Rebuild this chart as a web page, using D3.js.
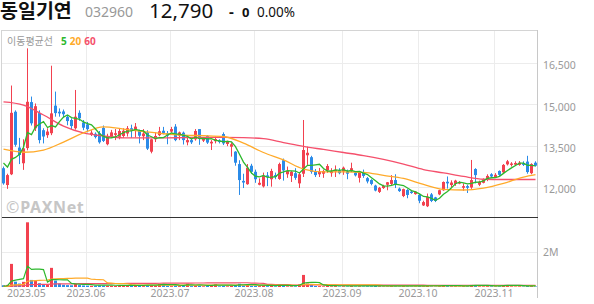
<!DOCTYPE html>
<html>
<head>
<meta charset="utf-8">
<script src="https://cdn.jsdelivr.net/npm/d3@7"></script>
<style>
  body { margin: 0; background: #fff; }
  svg text { font-family: "Noto Sans", "Noto Sans CJK KR", sans-serif; }
</style>
</head>
<body>
<div id="chart"></div>
<script>

// ---- data ----
var stockName = "동일기연";
var stockCode = "032960";
var lastPrice = "12,790";
var change = "0";
var changePct = "0.00%";

// daily candles, 2023-04-28 .. 2023-11-15
var opens = [12700,12090,12480,14750,13450,12880,13430,15100,14150,14700,14080,13900,13970,14970,14750,14760,14560,14450,14150,14710,
  14360,14290,13910,13950,13970,14160,13570,13840,13910,13840,13870,13960,14150,14090,14060,13860,14000,13300,13750,13900,
  14060,13970,14030,14210,13880,13990,13640,13720,13750,14120,13700,13870,13600,13680,13700,13940,13580,13480,13300,12850,
  12240,12120,12790,12570,12100,12040,12440,12300,12450,12310,12990,12480,12420,12520,12150,12500,13170,13100,12600,12480,
  12500,12620,12520,12580,12620,12580,12580,12600,12540,12350,12530,12340,12270,12070,11840,11980,12100,12130,12270,11960,
  11690,11910,11850,11760,11730,11350,11320,11750,11640,11750,11900,12210,12090,12130,12140,11990,12050,12000,12670,12100,
  12170,12280,12480,12380,12600,12550,12840,12820,12830,12820,12880,12940,12520,12900];
var highs = [12760,12500,15700,14800,13800,13750,17050,15300,15050,14800,14150,14150,16420,15480,14870,14830,14630,14510,15540,14800,
  14450,14380,14080,14000,14050,14250,13950,14090,14120,14160,14150,14230,14280,14340,14100,14120,14080,13770,14000,14200,
  14200,14050,14200,14300,14030,14030,13870,13820,14120,14120,13800,13900,13720,13850,13750,14000,13700,13630,13320,12990,
  12500,12850,12860,12650,12330,12540,12560,12680,12540,12900,13050,12760,12600,12700,12550,14450,13480,13150,12670,12710,
  12650,12850,12700,12800,12700,12760,12650,12900,12580,12600,12650,12380,12300,12100,12020,12100,12200,12450,12480,12000,
  11960,11940,11880,11870,11760,11520,11780,11800,11660,11920,12220,12400,12260,12280,12230,12150,12100,13000,12700,12250,
  12330,12480,12520,12520,12620,12850,13000,12920,12950,12960,12950,13150,12880,12950];
var lows = [12100,11950,12450,13480,12850,12640,13350,14250,14050,13600,13600,13800,13900,14570,14570,14540,14260,14120,14100,14420,
  14080,14000,13870,13780,13590,13650,13530,13800,13720,13750,13800,13850,13800,13820,13600,13720,13360,13240,13650,13860,
  13930,13570,13990,13680,13720,13560,13530,13580,13700,13550,13650,13580,13360,13600,13600,13540,13500,13120,12790,11730,
  11980,12100,12500,12170,12080,12000,12050,12030,12300,12280,12250,12350,12200,12280,11980,12380,12820,12500,12380,12380,
  12350,12530,12390,12380,12480,12460,12300,12560,12400,12180,12350,12150,12080,11860,11800,11950,11900,12050,11980,11840,
  11650,11610,11770,11740,11430,11330,11290,11470,11470,11720,11880,11960,12000,12060,12120,11880,11800,11950,12150,12050,
  12150,12230,12350,12350,12420,12520,12800,12760,12800,12790,12780,12500,12480,12760];
var closes = [12150,12450,14710,13550,13180,13420,15110,14330,14950,13720,13850,14030,14690,14700,14690,14660,14410,14230,14570,14510,
  14170,14120,13990,13830,13640,13690,13870,14000,13970,14050,14060,14150,14060,14210,13880,13960,13410,13750,13870,14040,
  13980,13880,14120,13720,14000,13720,13720,13640,14050,13760,13760,13630,13660,13760,13650,13600,13690,13570,12900,12270,
  12180,12720,12570,12300,12170,12420,12380,12600,12380,12850,12620,12600,12570,12350,12480,13360,13260,12570,12450,12580,
  12600,12780,12580,12640,12520,12720,12500,12700,12440,12560,12420,12220,12130,11890,11990,12060,12190,12270,12090,11870,
  11940,11730,11800,11850,11520,11470,11660,11510,11510,11900,12200,12150,12180,12250,12190,12050,11990,12270,12450,12210,
  12290,12420,12400,12460,12460,12820,12950,12870,12890,12900,12820,12560,12850,12790];
// closes of the four sessions before the window (they set the start of the 5-day line)
var prevCloses = [13200, 13300, 13200, 12600];

// volume, shares
var volumes = [100000,120000,1340000,310000,200000,300000,3750000,410000,370000,220000,150000,120000,1110000,370000,200000,130000,110000,100000,210000,110000,
  90000,80000,70000,70000,90000,80000,70000,60000,60000,60000,60000,70000,60000,70000,80000,50000,110000,90000,60000,180000,
  170000,60000,50000,90000,50000,70000,190000,50000,80000,70000,40000,60000,70000,170000,40000,60000,40000,60000,120000,190000,
  90000,110000,70000,70000,50000,70000,50000,60000,40000,80000,80000,40000,40000,40000,160000,700000,200000,110000,60000,50000,
  40000,60000,40000,50000,30000,40000,30000,50000,30000,40000,30000,40000,40000,60000,40000,30000,30000,50000,40000,30000,
  50000,40000,30000,30000,50000,40000,60000,40000,30000,40000,70000,50000,40000,40000,30000,40000,40000,120000,90000,40000,
  40000,50000,40000,30000,40000,80000,110000,40000,30000,40000,30000,60000,50000,30000];

// 20- and 60-day moving average, read every 5 sessions
var maIdx = [0,5,10,15,20,25,30,35,40,45,50,55,60,65,70,75,80,85,90,95,100,105,110,115,120,125,130,133];
var ma20Vals = [13390,13280,13360,13650,13980,14200,14120,14030,13950,13900,13880,13850,13610,13270,13000,12670,12570,12570,12550,12440,
  12330,12110,11930,11910,11980,12150,12380,12470];
var ma60Vals = [15110,14990,14630,14230,13980,13870,13800,13800,13800,13810,13820,13820,13810,13770,13630,13490,13380,13270,13160,13020,
  12850,12650,12530,12400,12300,12290,12290,12290];

var monthStarts = [0, 21, 42, 63, 85, 104, 123];
var monthLabels = ["2023.05", "2023.06", "2023.07", "2023.08", "2023.09", "2023.10", "2023.11"];
var priceTicks = [12000, 13500, 15000, 16500];
var volumeTicks = [2000000];

// ---- layout ----
var svgWidth = 594;
var svgHeight = 304;
var left = 2, right = 538;
var priceTop = 30, volBottom = 287;

var upColor = "#f2414f";
var downColor = "#2b8be8";
var ma5Color = "#2db82d";
var ma20Color = "#ffaa2a";
var ma60Color = "#f5506c";
var gridColor = "#ececec";

var svg = d3.select("#chart")
  .append("svg")
  .attr("width", svgWidth)
  .attr("height", svgHeight);

var n = closes.length;
var x = d3.scaleBand()
  .domain(d3.range(n))
  .range([left, right]);
var cx = i => x(i) + 1.5;

var y = d3.scaleLinear()
  .domain([12000, 16500])
  .range([187.5, 63.5]);

var yVol = d3.scaleLinear()
  .domain([0, 2000000])
  .range([volBottom, 252.5]);

// ---- header ----
var header = svg.append("g");
header.append("text").attr("x", 0).attr("y", 18)
  .attr("font-size", 19.5).attr("font-weight", 700).attr("fill", "#111")
  .style("font-family", "'Noto Sans CJK KR'")
  .text(stockName);
header.append("text").attr("x", 85).attr("y", 17)
  .attr("font-size", 14).attr("fill", "#999")
  .text(stockCode);
header.append("text").attr("x", 149).attr("y", 18)
  .attr("font-size", 20.5).attr("fill", "#111")
  .text(lastPrice);
header.append("text").attr("x", 229).attr("y", 17)
  .attr("font-size", 15).attr("font-weight", 700).attr("fill", "#111")
  .text("-");
header.append("text").attr("x", 242).attr("y", 17)
  .attr("font-size", 13).attr("font-weight", 700).attr("fill", "#111")
  .text(change);
header.append("text").attr("x", 257).attr("y", 17)
  .attr("font-size", 13.5).attr("fill", "#111")
  .text(changePct);

// ---- grid ----
var grid = svg.append("g");
grid.selectAll(".hgrid")
  .data(priceTicks)
  .enter().append("line")
  .attr("x1", left).attr("x2", right)
  .attr("y1", d => Math.floor(y(d)) + 0.5)
  .attr("y2", d => Math.floor(y(d)) + 0.5)
  .attr("stroke", gridColor);
grid.selectAll(".vgrid")
  .data(volumeTicks)
  .enter().append("line")
  .attr("x1", left).attr("x2", right)
  .attr("y1", d => Math.floor(yVol(d)) + 0.5)
  .attr("y2", d => Math.floor(yVol(d)) + 0.5)
  .attr("stroke", gridColor);
grid.selectAll(".mgrid")
  .data(monthStarts.slice(1))
  .enter().append("line")
  .attr("x1", d => x(d) + 0.5).attr("x2", d => x(d) + 0.5)
  .attr("y1", priceTop).attr("y2", volBottom)
  .attr("stroke", gridColor);

// frame
svg.append("line").attr("x1", left).attr("x2", right).attr("y1", 30.5).attr("y2", 30.5).attr("stroke", "#d4d4d4");
svg.append("line").attr("x1", 1.5).attr("x2", 1.5).attr("y1", 30).attr("y2", volBottom).attr("stroke", "#d4d4d4");
svg.append("line").attr("x1", 537.5).attr("x2", 537.5).attr("y1", 30).attr("y2", 298).attr("stroke", "#c8c8c8");

// watermark
var wm = svg.append("text").attr("x", 6).attr("y", 213)
  .attr("font-size", 16).attr("font-weight", 700).attr("fill", "#c6c6c6");
wm.append("tspan").attr("font-size", 16).attr("font-weight", 400).text("©");
wm.append("tspan").attr("dx", 1).attr("letter-spacing", 0.6).text("PAXNet");

// legend
var legend = svg.append("text").attr("x", 7).attr("y", 45).attr("font-size", 10);
legend.append("tspan").attr("fill", "#999").style("font-family", "'Noto Sans CJK KR'").text("이동평균선");
legend.append("tspan").attr("dx", 8).attr("fill", ma5Color).attr("font-weight", 700).text("5");
legend.append("tspan").attr("dx", 3).attr("fill", ma20Color).attr("font-weight", 700).text("20");
legend.append("tspan").attr("dx", 3).attr("fill", ma60Color).attr("font-weight", 700).text("60");

// ---- price panel ----
var candles = svg.append("g");
var isUp = i => closes[i] >= opens[i];

candles.selectAll(".wick")
  .data(d3.range(n))
  .enter().append("line")
  .attr("x1", cx).attr("x2", cx)
  .attr("y1", i => y(highs[i])).attr("y2", i => y(lows[i]))
  .attr("stroke", i => isUp(i) ? upColor : downColor)
  .attr("stroke-width", 1);

candles.selectAll(".body")
  .data(d3.range(n))
  .enter().append("rect")
  .attr("x", i => x(i))
  .attr("width", 3)
  .attr("y", i => y(Math.max(opens[i], closes[i])))
  .attr("height", i => Math.max(1, Math.abs(y(opens[i]) - y(closes[i]))))
  .attr("fill", i => isUp(i) ? upColor : downColor);

// 5-day average from closes
var allCloses = prevCloses.concat(closes);
var ma5 = closes.map((c, i) => d3.mean(allCloses.slice(i, i + 5)));

var lineLinear = d3.line().x(d => d[0]).y(d => d[1]);
var lineSmooth = d3.line().x(d => d[0]).y(d => d[1]).curve(d3.curveMonotoneX);

svg.append("path")
  .attr("d", lineSmooth(maIdx.map((i, k) => [cx(i), y(ma60Vals[k])])))
  .attr("fill", "none").attr("stroke", ma60Color).attr("stroke-width", 1.3);
svg.append("path")
  .attr("d", lineSmooth(maIdx.map((i, k) => [cx(i), y(ma20Vals[k])])))
  .attr("fill", "none").attr("stroke", ma20Color).attr("stroke-width", 1.3);
svg.append("path")
  .attr("d", lineLinear(ma5.map((v, i) => [cx(i), y(v)])))
  .attr("fill", "none").attr("stroke", ma5Color).attr("stroke-width", 1.3);

// ---- volume panel ----
svg.append("g").selectAll("rect")
  .data(d3.range(n))
  .enter().append("rect")
  .attr("x", i => x(i))
  .attr("width", 3)
  .attr("y", i => yVol(volumes[i]))
  .attr("height", i => volBottom - yVol(volumes[i]))
  .attr("fill", i => isUp(i) ? upColor : downColor);

function movingAvg(arr, k) {
  // sessions before the window count as zero
  return arr.map((v, i) => d3.sum(arr.slice(Math.max(0, i - k + 1), i + 1)) / k);
}
[[60, ma60Color], [20, ma20Color], [5, ma5Color]].forEach(function (m) {
  var vals = movingAvg(volumes, m[0]);
  svg.append("path")
    .attr("d", lineLinear(vals.map((v, i) => [cx(i), yVol(v) - 0.5])))
    .attr("fill", "none").attr("stroke", m[1]).attr("stroke-width", 1.2);
});

// separator
svg.append("line").attr("x1", left).attr("x2", right).attr("y1", 217.5).attr("y2", 217.5).attr("stroke", "#333");

// ---- axes ----
var yAxis = d3.axisRight(y)
  .tickValues(priceTicks)
  .tickFormat(d3.format(","))
  .tickSize(0)
  .tickPadding(5);
var yAxisG = svg.append("g").attr("transform", "translate(538,2)").call(yAxis);

var volAxis = d3.axisRight(yVol)
  .tickValues(volumeTicks)
  .tickFormat(d => d / 1e6 + "M")
  .tickSize(0)
  .tickPadding(5);
var volAxisG = svg.append("g").attr("transform", "translate(538,0)").call(volAxis);

var xAxis = d3.axisBottom(x)
  .tickValues(monthStarts)
  .tickFormat((d, k) => monthLabels[k])
  .tickSize(0)
  .tickPadding(4);
var xAxisG = svg.append("g").attr("transform", "translate(-2,286)").call(xAxis);
xAxisG.selectAll("text").filter((d, k) => k == 0)
  .attr("text-anchor", "start").attr("x", 5);

[yAxisG, volAxisG, xAxisG].forEach(function (g) {
  g.select(".domain").remove();
  g.selectAll("text")
    .attr("fill", "#9a9a9a")
    .attr("font-size", 10.5)
    .style("font-family", "'Noto Sans', sans-serif");
});

</script>
</body>
</html>
